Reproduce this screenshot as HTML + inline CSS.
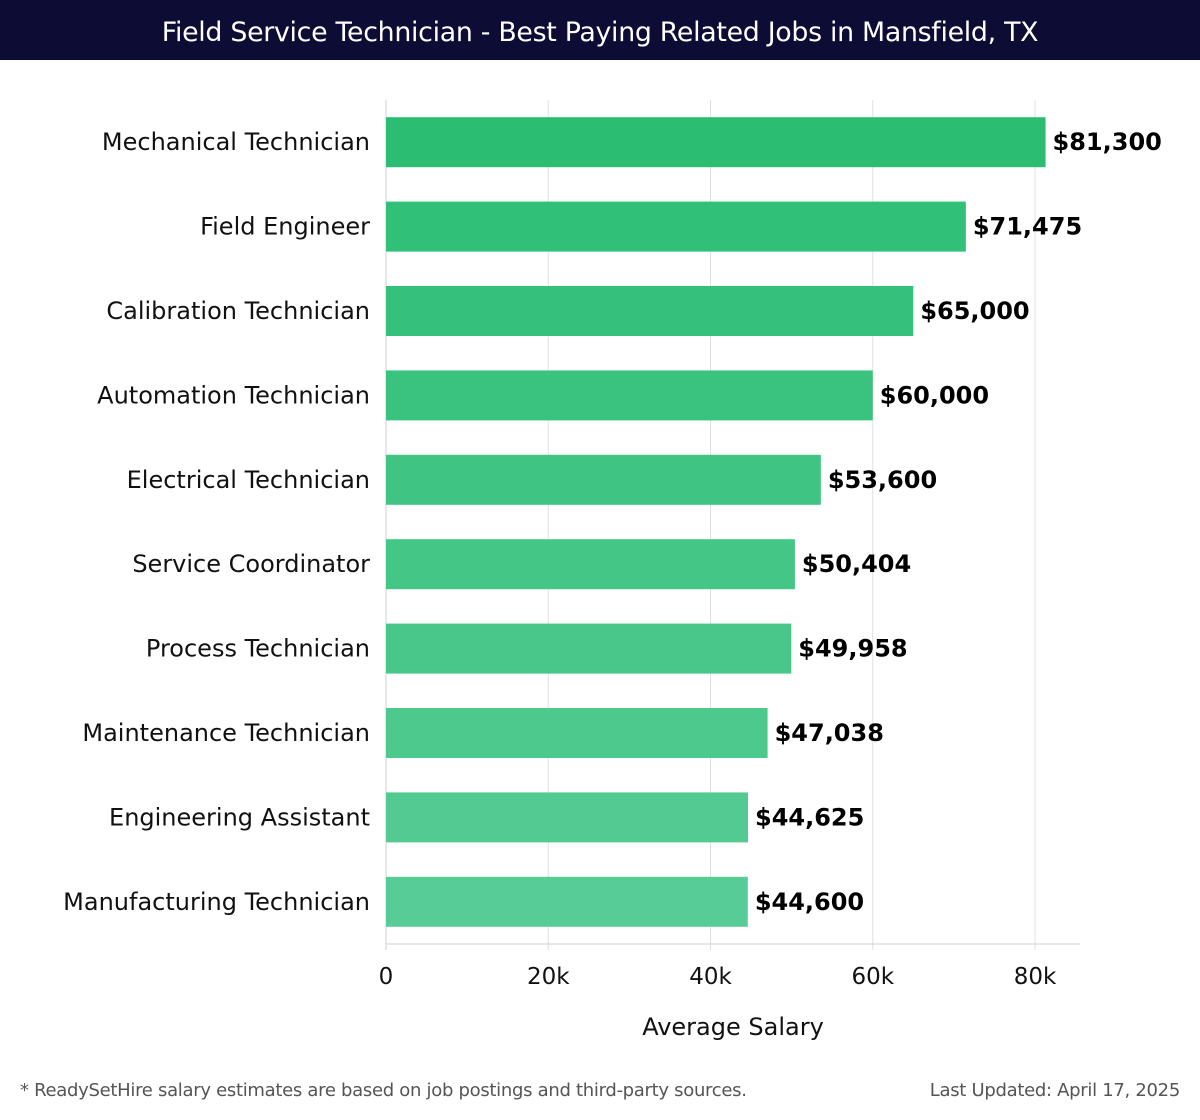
<!DOCTYPE html>
<html><head><meta charset="utf-8">
<style>
body{margin:0;width:1200px;height:1120px;background:#fff;overflow:hidden;font-family:"DejaVu Sans","Liberation Sans",sans-serif;}
#hdr{position:absolute;left:0;top:0;width:1200px;height:60px;background:#0d0c35;color:#fff;font-size:26.8px;line-height:66px;text-align:center;font-family:"DejaVu Sans","Liberation Sans",sans-serif;font-weight:normal;letter-spacing:-0.3px}
.foot{position:absolute;top:1080px;font-size:18px;color:#555;letter-spacing:-0.3px}
</style></head><body>
<div id="hdr">Field Service Technician - Best Paying Related Jobs in Mansfield, TX</div>
<svg id="chart" width="1200" height="1120" style="position:absolute;left:0;top:0" xmlns="http://www.w3.org/2000/svg"></svg>
<div class="foot" style="left:20px">* ReadySetHire salary estimates are based on job postings and third-party sources.</div>
<div class="foot" style="right:20px">Last Updated: April 17, 2025</div>
<script>
const categories=["Mechanical Technician","Field Engineer","Calibration Technician","Automation Technician","Electrical Technician","Service Coordinator","Process Technician","Maintenance Technician","Engineering Assistant","Manufacturing Technician"];
const salaries=[81300,71475,65000,60000,53600,50404,49958,47038,44625,44600];
const valueLabels=["$81,300","$71,475","$65,000","$60,000","$53,600","$50,404","$49,958","$47,038","$44,625","$44,600"];
const tickValues=[0,20000,40000,60000,80000];
const tickLabels=["0","20k","40k","60k","80k"];
const NS="http://www.w3.org/2000/svg";
const svg=document.getElementById('chart');
const x0=386,x80=1035,top0=100,bot=944;
function xs(v){return x0+(v/80000)*(x80-x0);}
const band=(bot-top0)/categories.length;
function yc(i){return top0+band*(i+0.5);}
function mk(t,a){const e=document.createElementNS(NS,t);for(const k in a)e.setAttribute(k,a[k]);svg.appendChild(e);return e;}
tickValues.forEach((v,i)=>{
  const g=mk('line',{x1:xs(v),x2:xs(v),y1:top0,y2:bot+6,stroke:'#e0e0e0','stroke-width':1});
  
  
  const t=mk('text',{x:xs(v),y:984,'text-anchor':'middle','font-size':23,fill:'#111'});
  t.textContent=tickLabels[i];
  
  
});
const ax=mk('line',{x1:x0,x2:1080,y1:bot,y2:bot,stroke:'#d0d0d0','stroke-width':1});


const ya=mk('line',{x1:x0,x2:x0,y1:top0,y2:bot+6,stroke:'#d0d0d0','stroke-width':1});


const n=categories.length;
categories.forEach((c,i)=>{
  const f=i/(n-1);
  const r=Math.round(43+f*(88-43)),g=Math.round(190+f*(204-190)),b=Math.round(115+f*(150-115));
  const bar=mk('rect',{x:x0,y:yc(i)-25,width:xs(salaries[i])-x0,height:50,fill:`rgb(${r},${g},${b})`});
  
  
  const l=mk('text',{x:370,y:yc(i)+8,'text-anchor':'end','font-size':24,fill:'#111'});
  l.textContent=c;
  
  
  const v=mk('text',{x:xs(salaries[i])+7,y:yc(i)+8,'font-size':24,'font-weight':'bold',fill:'#000'});
  v.textContent=valueLabels[i];
  
  
});
const at=mk('text',{x:733,y:1035,'text-anchor':'middle','font-size':24,fill:'#111'});
at.textContent='Average Salary';


</script>
</body></html>
